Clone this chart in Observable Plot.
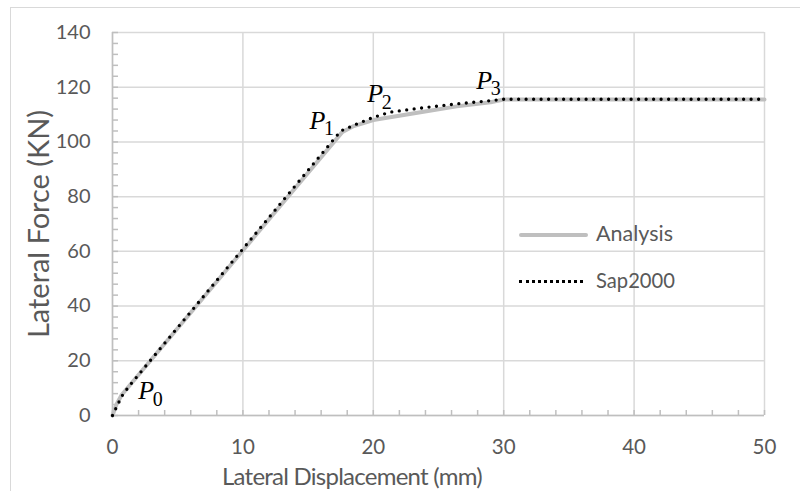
<!DOCTYPE html>
<html>
<head>
<meta charset="utf-8">
<script src="https://cdn.jsdelivr.net/npm/d3@7"></script>
<script src="https://cdn.jsdelivr.net/npm/@observablehq/plot@0.6"></script>
<style>
  html, body { margin: 0; padding: 0; background: #fff; }
  #wrap { position: relative; width: 800px; height: 491px; overflow: hidden; }
  #frame { position: absolute; left: 10px; top: 7px; width: 820px; height: 520px;
           border-top: 1.5px solid #d9d9d9; border-left: 1.5px solid #d9d9d9; box-sizing: border-box; }
  .leg { position: absolute; font-family: Lato, sans-serif; font-size: 20px; color: #595959; line-height: 1; white-space: nowrap; }
  .sw { position: absolute; }
</style>
</head>
<body>
<div id="wrap">
  <div id="frame"></div>
</div>
<script>
// ---- data ----
const analysisX = [0, 0.3, 0.7, 17.6, 18.5, 20, 23.85, 26.4, 29, 30, 50];
const analysisY = [0, 4, 7.5, 103.5, 105.8, 108, 111, 113, 114.5, 115.5, 115.5];
const sapX = [0, 0.45, 0.75, 1.25, 17.5, 18.76, 20, 21.3, 23.85, 26.4, 29, 30, 50];
const sapY = [0, 4.5, 7.3, 10.6, 104, 106.6, 109, 110.9, 112.5, 113.9, 115.1, 115.6, 115.6];
const pointNames = ["0", "1", "2", "3"];
const pointLabelX = [1.97, 15.1, 19.53, 27.9];
const pointLabelY = [5.85, 104.9, 114.5, 119.4];
const xTicks = [0, 10, 20, 30, 40, 50];
const yTicks = [0, 20, 40, 60, 80, 100, 120, 140];
const xMinor = d3.range(0, 51, 2);
const yMinor = d3.range(0, 141, 4);
const seriesNames = ["Analysis", "Sap2000"];

const analysis = analysisX.map((x, i) => ({x, y: analysisY[i]}));
const sap = sapX.map((x, i) => ({x, y: sapY[i]}));
const labels = pointNames.map((s, i) => ({s, x: pointLabelX[i], y: pointLabelY[i]}));

const gridColor = "#d9d9d9";
const axisColor = "#bfbfbf";
const textColor = "#595959";

const chart = Plot.plot({
  width: 800,
  height: 491,
  marginLeft: 112,
  marginRight: 36,
  marginTop: 32,
  marginBottom: 76,
  x: {domain: [0, 50]},
  y: {domain: [0, 140]},
  style: {fontFamily: "Lato, sans-serif", fontSize: "20px", color: textColor, background: "transparent"},
  marks: [
    Plot.gridX(xTicks, {stroke: gridColor, strokeOpacity: 1, strokeWidth: 1.5}),
    Plot.gridY(yTicks, {stroke: gridColor, strokeOpacity: 1, strokeWidth: 1.5}),
    Plot.axisX(xMinor, {tickSize: -5, tickFormat: () => "", stroke: axisColor, strokeWidth: 1.5, label: null}),
    Plot.axisY(yMinor, {tickSize: -6, tickFormat: () => "", stroke: axisColor, strokeWidth: 1.5, label: null}),
    Plot.axisX(xTicks, {tickSize: 0, tickPadding: 24, fill: textColor, label: null, fontSize: 20.5}),
    Plot.axisY(yTicks, {tickSize: 0, tickPadding: 22, fill: textColor, label: null, fontSize: 20}),
    Plot.ruleX([0], {stroke: axisColor, strokeWidth: 1.5}),
    Plot.ruleY([0], {stroke: axisColor, strokeWidth: 1.5}),
    Plot.line(analysis, {x: "x", y: "y", stroke: "#bfbfbf", strokeWidth: 4, strokeLinejoin: "round", strokeLinecap: "round"}),
    Plot.line(sap, {x: "x", y: "y", stroke: "#000", strokeWidth: 3.3, strokeDasharray: "0,7.5", strokeLinecap: "round"}),
    Plot.text(labels, {x: "x", y: "y", text: () => "P", textAnchor: "start", lineAnchor: "bottom",
      fontFamily: "Liberation Serif, serif", fontStyle: "italic", fontSize: 26, fill: "#000"}),
    Plot.text(labels, {x: "x", y: "y", text: "s", dx: 14.5, dy: 6.5, textAnchor: "start", lineAnchor: "bottom",
      fontFamily: "Liberation Serif, serif", fontSize: 20, fill: "#000"})
  ]
});

const wrap = document.getElementById("wrap");
chart.style.position = "absolute";
chart.style.left = "0px";
chart.style.top = "0px";
wrap.appendChild(chart);

// axis titles
const svg = d3.select(chart);
const yt = svg.append("text")
  .attr("transform", "translate(49,224) rotate(-90)")
  .attr("text-anchor", "middle")
  .attr("font-family", "Lato, sans-serif").attr("font-size", 24)
  .attr("fill", textColor)
  .text("Lateral Force (KN)");
const ylen = yt.node().getComputedTextLength();
if (ylen > 0) yt.attr("font-size", 24 * 228 / ylen);

const xTitle = "Lateral Displacement (mm)";
const xt = svg.append("text")
  .attr("x", 352).attr("y", 485)
  .attr("text-anchor", "middle")
  .attr("font-family", "Lato, sans-serif").attr("font-size", 24)
  .attr("fill", textColor)
  .text(xTitle);
const xlen = xt.node().getComputedTextLength();
if (xlen > 0) {
  const ls = Math.max(-1.3, (260 - xlen) / xTitle.length);
  xt.attr("letter-spacing", ls);
}

// legend
function addLegend(name, top, style, target) {
  const sw = document.createElement("div");
  sw.className = "sw";
  sw.style.left = "519px";
  sw.style.top = (top - 2) + "px";
  Object.assign(sw.style, style);
  wrap.appendChild(sw);
  const t = document.createElement("div");
  t.className = "leg";
  t.style.left = "596px";
  t.textContent = name;
  wrap.appendChild(t);
  const w = t.getBoundingClientRect().width;
  const fs = w > 0 ? 20 * target / w : 20;
  t.style.fontSize = fs + "px";
  t.style.top = (top - fs * 0.55) + "px";
}
addLegend(seriesNames[0], 235, {width: "69px", height: "4px", background: "#bfbfbf", borderRadius: "2px"}, 77);
addLegend(seriesNames[1], 281, {width: "64px", height: "0px", borderTop: "3px dotted #000", marginTop: "0.5px"}, 79);
</script>
</body>
</html>
